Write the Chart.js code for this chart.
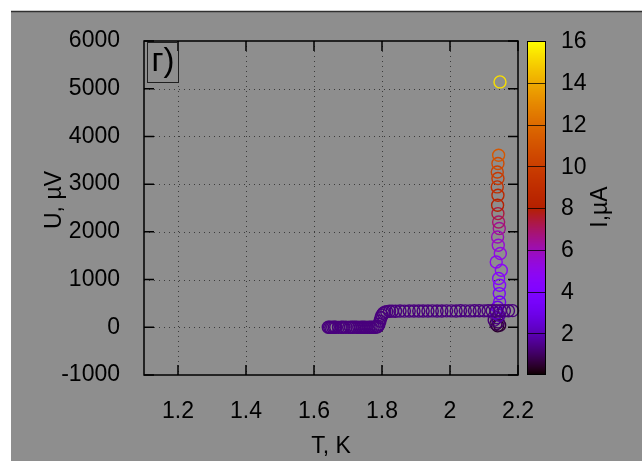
<!DOCTYPE html>
<html>
<head>
<meta charset="utf-8">
<script src="https://cdn.jsdelivr.net/npm/chart.js@4/dist/chart.umd.min.js"></script>
<style>
  html, body { margin: 0; padding: 0; background: #ffffff; }
  canvas { display: block; }
</style>
</head>
<body>
<canvas id="chart" width="642" height="461"></canvas>
<script>
// Temperature sweep at fixed current: T (K) and U (µV)
const tempSweepT = [1.642,1.646,1.650,1.655,1.660,1.664,1.672,1.680,1.686,1.694,1.702,1.708,1.714,1.720,1.726,1.732,1.738,1.744,1.750,1.756,1.762,1.768,1.774,1.780,1.785,1.788,1.791,1.794,1.797,1.800,1.804,1.808,1.814,1.822,1.830,1.840,1.853,1.866,1.880,1.894,1.908,1.921,1.935,1.948,1.962,1.976,1.990,2.004,2.018,2.031,2.045,2.059,2.072,2.086,2.100,2.112,2.124,2.136,2.148,2.160,2.172,2.184];
const tempSweepU = [0,3,-2,1,0,2,-1,0,2,1,-2,0,1,3,0,-1,2,0,1,-2,0,2,1,0,4,20,65,130,200,255,292,315,328,335,338,337,340,339,341,340,342,341,340,343,341,342,344,343,342,345,344,343,346,345,344,346,345,347,346,348,347,349];
const tempSweepCurrent = 1.3; // µA

// Current sweep near 2.14 K: T (K), U (µV), I (µA)
const ivT = [2.140,2.146,2.135,2.142,2.130,2.138,2.144,2.136,2.140,2.146,2.145,2.146,2.143,2.151,2.136,2.148,2.142,2.140,2.145,2.143,2.141,2.140,2.141,2.139,2.141,2.139,2.141,2.143,2.147];
const ivU = [30,45,70,110,150,200,250,300,420,530,706,880,1021,1195,1369,1545,1719,1893,2069,2208,2383,2558,2767,2942,3117,3256,3432,3606,5143];
const ivI = [0.4,0.6,0.8,1.0,1.2,1.4,1.8,2.2,2.8,3.2,3.6,4.0,4.3,4.6,4.9,5.2,5.5,5.9,6.4,6.9,7.4,8.0,8.6,9.1,9.6,10.1,10.6,11.2,15.3];

// Axis ticks
const xTickValues = [1.2, 1.4, 1.6, 1.8, 2, 2.2];
const xTickLabels = ['1.2', '1.4', '1.6', '1.8', '2', '2.2'];
const yTickValues = [-1000, 0, 1000, 2000, 3000, 4000, 5000, 6000];
const yTickLabels = ['-1000', '0', '1000', '2000', '3000', '4000', '5000', '6000'];
const cbTickValues = [0, 2, 4, 6, 8, 10, 12, 14, 16];
const cbTickLabels = ['0', '2', '4', '6', '8', '10', '12', '14', '16'];
const cbMin = 0, cbMax = 16;

const FONT = '"Liberation Sans", Arial, sans-serif';
const BG = '#8e8e8e';

// black -> blue-violet -> red -> orange -> yellow palette
function palette(v) {
  v = Math.min(1, Math.max(0, v));
  const r = Math.sqrt(v);
  const g = v * v * v;
  const b = Math.max(0, Math.sin(2 * Math.PI * v));
  return 'rgb(' + Math.round(r * 255) + ',' + Math.round(g * 255) + ',' + Math.round(b * 255) + ')';
}
const colorOf = i => palette((i - cbMin) / (cbMax - cbMin));

const decorations = {
  id: 'decorations',
  beforeDraw(chart) {
    const ctx = chart.ctx;
    ctx.save();
    ctx.fillStyle = '#ffffff';
    ctx.fillRect(0, 0, chart.width, chart.height);
    ctx.fillStyle = BG;
    ctx.fillRect(11, 11, chart.width - 11, chart.height - 11);
    ctx.strokeStyle = '#303030';
    ctx.lineWidth = 1.5;
    ctx.beginPath();
    ctx.moveTo(11, 11.5);
    ctx.lineTo(chart.width, 11.5);
    ctx.stroke();
    ctx.restore();
  },
  beforeDatasetsDraw(chart) {
    const ctx = chart.ctx, a = chart.chartArea;
    const xs = chart.scales.x, ys = chart.scales.y;
    ctx.save();
    ctx.strokeStyle = 'rgba(45,45,45,0.85)';
    ctx.lineWidth = 1;
    ctx.setLineDash([1, 4]);
    xTickValues.forEach(v => {
      const px = Math.round(xs.getPixelForValue(v)) + 0.5;
      if (px < a.left + 2 || px > a.right - 2) return;
      ctx.beginPath(); ctx.moveTo(px, a.top); ctx.lineTo(px, a.bottom); ctx.stroke();
    });
    yTickValues.forEach(v => {
      const py = Math.round(ys.getPixelForValue(v)) + 0.5;
      if (py < a.top + 2 || py > a.bottom - 2) return;
      ctx.beginPath(); ctx.moveTo(a.left, py); ctx.lineTo(a.right, py); ctx.stroke();
    });
    ctx.restore();
  },
  afterDatasetsDraw(chart) {
    const ctx = chart.ctx, a = chart.chartArea;
    const xs = chart.scales.x, ys = chart.scales.y;
    ctx.save();
    ctx.strokeStyle = '#000000';
    ctx.lineWidth = 1.5;
    const tick = 10;
    ctx.beginPath();
    xTickValues.forEach(v => {
      const px = xs.getPixelForValue(v);
      ctx.moveTo(px, a.bottom); ctx.lineTo(px, a.bottom - tick);
      ctx.moveTo(px, a.top); ctx.lineTo(px, a.top + tick);
    });
    yTickValues.forEach(v => {
      const py = ys.getPixelForValue(v);
      ctx.moveTo(a.left, py); ctx.lineTo(a.left + tick, py);
      ctx.moveTo(a.right, py); ctx.lineTo(a.right - tick, py);
    });
    ctx.stroke();
    ctx.strokeRect(a.left, a.top, a.right - a.left, a.bottom - a.top);

    // panel label in a box
    ctx.lineWidth = 1;
    ctx.strokeStyle = '#202020';
    ctx.strokeRect(a.left + 3.5, a.top + 1.5, 31, 40);
    ctx.fillStyle = '#000000';
    ctx.font = '33px ' + FONT;
    ctx.textAlign = 'center';
    ctx.textBaseline = 'middle';
    ctx.fillText('г)', a.left + 19, a.top + 21);
    ctx.restore();
  },
  afterDraw(chart) {
    const ctx = chart.ctx, a = chart.chartArea;
    ctx.save();
    // colour bar
    const cbL = 527, cbR = 546, cbT = a.top, cbB = a.bottom;
    const h = cbB - cbT;
    for (let k = 0; k < h; k++) {
      const v = 1 - (k + 0.5) / h;
      ctx.fillStyle = palette(v);
      ctx.fillRect(cbL, cbT + k, cbR - cbL, 1);
    }
    ctx.strokeStyle = '#000000';
    ctx.lineWidth = 1;
    ctx.strokeRect(cbL + 0.5, cbT + 0.5, cbR - cbL - 1, h - 1);
    ctx.fillStyle = '#000000';
    ctx.font = '23px ' + FONT;
    ctx.textAlign = 'left';
    ctx.textBaseline = 'middle';
    cbTickValues.forEach((v, i) => {
      const py = cbB - (v - cbMin) / (cbMax - cbMin) * h;
      if (v > cbMin && v < cbMax) {
        ctx.strokeStyle = 'rgba(0,0,0,0.75)';
        ctx.beginPath();
        ctx.moveTo(cbL, Math.round(py) + 0.5);
        ctx.lineTo(cbR, Math.round(py) + 0.5);
        ctx.stroke();
      }
      ctx.fillText(cbTickLabels[i], 561, py + 1);
    });

    // axis titles
    ctx.textAlign = 'center';
    ctx.textBaseline = 'middle';
    ctx.fillText('T, K', (a.left + a.right) / 2, 447);
    ctx.save();
    ctx.translate(55, 200);
    ctx.rotate(-Math.PI / 2);
    ctx.fillText('U, µV', 0, 0);
    ctx.restore();
    ctx.save();
    ctx.translate(601, 207);
    ctx.rotate(-Math.PI / 2);
    ctx.fillText('I,µA', 0, 0);
    ctx.restore();
    ctx.restore();
  }
};

const tempSweepData = tempSweepT.map((t, i) => ({ x: t, y: tempSweepU[i] }));
const ivData = ivT.map((t, i) => ({ x: t, y: ivU[i] }));

new Chart(document.getElementById('chart'), {
  type: 'scatter',
  data: {
    datasets: [
      {
        label: 'T sweep',
        data: tempSweepData,
        pointStyle: 'circle',
        pointRadius: 6,
        pointBorderWidth: 1.4,
        pointBackgroundColor: 'rgba(0,0,0,0)',
        pointBorderColor: tempSweepT.map(() => colorOf(tempSweepCurrent)),
        clip: false
      },
      {
        label: 'I sweep',
        data: ivData,
        pointStyle: 'circle',
        pointRadius: 6,
        pointBorderWidth: 1.4,
        pointBackgroundColor: 'rgba(0,0,0,0)',
        pointBorderColor: ivI.map(colorOf),
        clip: false
      }
    ]
  },
  options: {
    responsive: false,
    animation: false,
    devicePixelRatio: 1,
    layout: { padding: { left: 0, top: 41, right: 124, bottom: 0 } },
    plugins: { legend: { display: false }, tooltip: { enabled: false } },
    scales: {
      x: {
        type: 'linear',
        min: 1.1,
        max: 2.2,
        afterBuildTicks: s => { s.ticks = xTickValues.map(v => ({ value: v })); },
        afterFit: s => { s.height = 86; },
        grid: { display: false },
        border: { display: false },
        ticks: {
          color: '#000000',
          font: { family: FONT, size: 23 },
          padding: 15,
          maxRotation: 0,
          autoSkip: false,
          callback: (v, i) => xTickLabels[i]
        }
      },
      y: {
        type: 'linear',
        min: -1000,
        max: 6000,
        afterBuildTicks: s => { s.ticks = yTickValues.map(v => ({ value: v })); },
        afterFit: s => { s.width = 144; },
        grid: { display: false },
        border: { display: false },
        ticks: {
          color: '#000000',
          font: { family: FONT, size: 23 },
          padding: 16,
          autoSkip: false,
          callback: (v, i) => yTickLabels[i]
        }
      }
    }
  },
  plugins: [decorations]
});
</script>
</body>
</html>
